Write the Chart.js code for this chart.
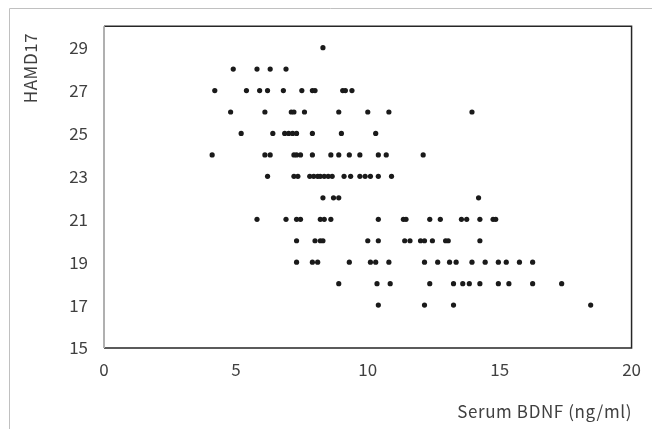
<!DOCTYPE html>
<html>
<head>
<meta charset="utf-8">
<script src="https://cdn.jsdelivr.net/npm/chart.js@4.4.0/dist/chart.umd.min.js"></script>
<style>
  html, body { margin: 0; padding: 0; background: #fff; }
</style>
</head>
<body>
<canvas id="chart" width="652" height="429"></canvas>
<script>
// HAMD17 score levels and the serum BDNF values (ng/ml) read at each level
const hamdLevels = [29, 28, 27, 26, 25, 24, 23, 22, 21, 20, 19, 18, 17];
const bdnf29 = [8.3];
const bdnf28 = [4.9, 5.8, 6.3, 6.9];
const bdnf27 = [4.2, 5.4, 5.9, 6.2, 6.8, 7.5, 7.9, 8.0, 9.05, 9.15, 9.4];
const bdnf26 = [4.8, 6.1, 7.1, 7.2, 7.6, 8.9, 10.0, 10.8, 13.95];
const bdnf25 = [5.2, 6.4, 6.85, 7.0, 7.15, 7.3, 7.9, 9.0, 10.3];
const bdnf24 = [4.1, 6.1, 6.3, 7.2, 7.3, 7.45, 7.9, 8.6, 8.9, 9.3, 9.7, 10.4, 10.7, 12.1];
const bdnf23 = [6.2, 7.2, 7.35, 7.8, 7.95, 8.1, 8.2, 8.35, 8.5, 8.65, 9.1, 9.35, 9.7, 9.9, 10.1, 10.4, 10.9];
const bdnf22 = [8.3, 8.7, 8.9, 14.2];
const bdnf21 = [5.8, 6.9, 7.3, 7.45, 8.2, 8.35, 8.6, 10.4, 11.35, 11.45, 12.35, 12.75, 13.55, 13.75, 14.25, 14.75, 14.85];
const bdnf20 = [7.3, 8.0, 8.2, 8.3, 10.0, 10.4, 11.4, 11.6, 12.0, 12.15, 12.45, 12.95, 13.05, 14.25];
const bdnf19 = [7.3, 7.9, 8.1, 9.3, 10.1, 10.3, 10.8, 12.15, 12.65, 13.1, 13.35, 13.95, 14.45, 14.95, 15.25, 15.75, 16.25];
const bdnf18 = [8.9, 10.35, 10.85, 12.35, 13.25, 13.6, 13.85, 14.25, 14.95, 15.35, 16.25, 17.35];
const bdnf17 = [10.4, 12.15, 13.25, 18.45];
const bdnfByLevel = [bdnf29, bdnf28, bdnf27, bdnf26, bdnf25, bdnf24, bdnf23, bdnf22, bdnf21, bdnf20, bdnf19, bdnf18, bdnf17];

// tick labels
const xTicks = [0, 5, 10, 15, 20];
const yTicks = [15, 17, 19, 21, 23, 25, 27, 29];

const xTitle = 'Serum BDNF (ng/ml)';
const yTitle = 'HAMD17';

const FONT = '"Noto Sans CJK JP", "Noto Sans", sans-serif';
const TEXT = '#404040';

const points = [];
hamdLevels.forEach((h, i) => {
  bdnfByLevel[i].forEach(x => points.push({ x, y: h }));
});

// outer frame, plot box and the two axis titles
const framePlugin = {
  id: 'frame',
  afterDraw(chart) {
    const { ctx, chartArea: a } = chart;
    ctx.save();

    ctx.strokeStyle = '#c0c0c0';
    ctx.lineWidth = 1;
    ctx.beginPath();
    ctx.moveTo(9.5, 429);
    ctx.lineTo(9.5, 8.5);
    ctx.lineTo(652, 8.5);
    ctx.stroke();

    ctx.strokeStyle = '#262626';
    ctx.lineWidth = 1.5;
    ctx.beginPath();
    ctx.moveTo(a.left, a.top);
    ctx.lineTo(a.right, a.top);
    ctx.lineTo(a.right, a.bottom);
    ctx.lineTo(a.left, a.bottom);
    ctx.stroke();

    ctx.strokeStyle = '#b0b0b0';
    ctx.lineWidth = 2;
    ctx.beginPath();
    ctx.moveTo(a.left, a.top);
    ctx.lineTo(a.left, a.bottom);
    ctx.stroke();

    ctx.fillStyle = TEXT;
    ctx.font = '17px ' + FONT;
    ctx.letterSpacing = '0.6px';
    ctx.textBaseline = 'alphabetic';
    ctx.textAlign = 'right';
    ctx.fillText(xTitle, 632, 418);

    ctx.translate(37, 68);
    ctx.rotate(-Math.PI / 2);
    ctx.textAlign = 'center';
    ctx.fillText(yTitle, 0, 0);
    ctx.restore();
  }
};

const ctx = document.getElementById('chart').getContext('2d');
new Chart(ctx, {
  type: 'scatter',
  data: {
    datasets: [{
      data: points,
      backgroundColor: '#1a1a1a',
      borderWidth: 0,
      pointRadius: 2.6,
      pointHoverRadius: 2.6
    }]
  },
  options: {
    responsive: false,
    animation: false,
    layout: { padding: { top: 25, right: 20, left: 0, bottom: 0 } },
    plugins: { legend: { display: false }, tooltip: { enabled: false } },
    scales: {
      x: {
        type: 'linear',
        min: 0,
        max: 20,
        afterBuildTicks: s => { s.ticks = xTicks.map(v => ({ value: v })); },
        afterFit: s => { s.height = 81; },
        grid: { display: false, drawTicks: false },
        border: { display: false },
        ticks: { color: TEXT, font: { family: FONT, size: 17 }, padding: 11, maxRotation: 0 }
      },
      y: {
        type: 'linear',
        min: 15,
        max: 30,
        afterBuildTicks: s => { s.ticks = yTicks.map(v => ({ value: v })); },
        afterFit: s => { s.width = 104; },
        grid: { display: false, drawTicks: false },
        border: { display: false },
        ticks: { color: TEXT, font: { family: FONT, size: 17 }, padding: 16 }
      }
    }
  },
  plugins: [framePlugin]
});
</script>
</body>
</html>
